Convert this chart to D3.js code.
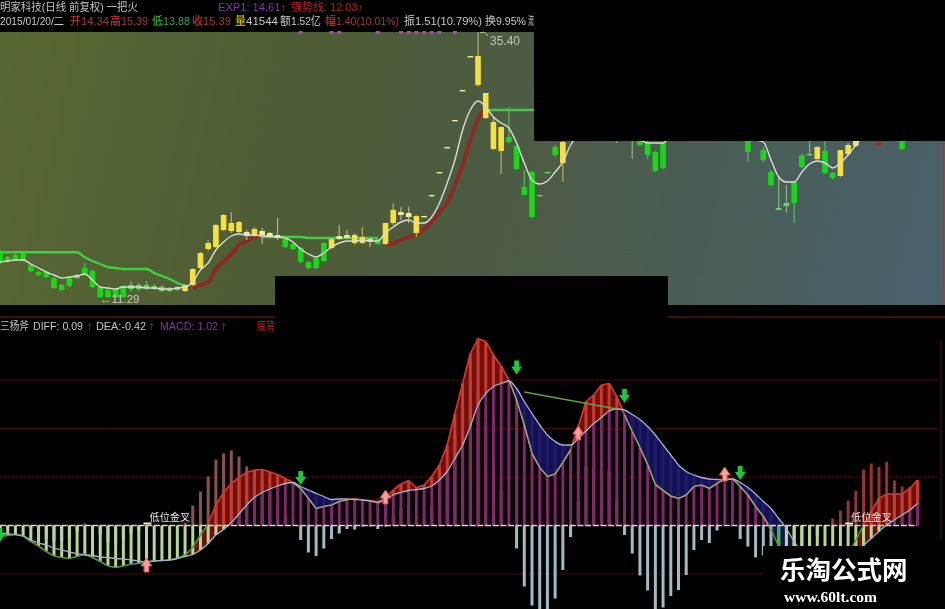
<!DOCTYPE html>
<html><head><meta charset="utf-8">
<script src="https://cdn.jsdelivr.net/npm/d3@7"></script>
<style>html,body{margin:0;padding:0;background:#000;overflow:hidden}svg{display:block;filter:blur(.55px)}text{font-family:"Liberation Sans","Noto Sans CJK SC",sans-serif}</style>
</head><body><svg id="c" width="945" height="609"></svg>
<script>
const _=null;
// candles (chart units)
const opens=[53,48,50,52,40,33,33,27,20,27,
30,37,34,18,15,16,19,20,20,20,
19,18,17,18,14,20,37,56,58,75,
74,73,69,69,70,68,67,66,61,57,
43,47,62,57,66,67,62,62,63,66,
61,82,90,88,72,88,109,132,157,184,
214,248,220,187,156,154,168,159,118,133,
110,133,158,142,_,_,_,_,_,_,
170,_,175,175,162,153,162,_,170,_,
_,_,_,_,_,_,_,175,_,155,
133,97,102,123,150,151,146,154,132,129,
151,159,_,_,164,_,_,175,_,_];
const closes=[43,43,45,45,34,30,28,17,15,19,
27,30,18,8,8,8,8,16,16,17,
16,14,14,15,20,36,52,62,80,90,
82,83,73,76,74,72,70,58,56,43,
37,37,44,66,69,70,70,68,66,61,
82,95,93,92,89,89,110,133,158,185,
215,249,249,212,183,178,163,136,110,88,
109,132,150,163,_,_,_,_,_,_,
169,_,174,160,150,134,137,_,165,_,
_,_,_,_,_,_,_,153,_,145,
120,95,99,102,138,150,158,132,127,155,
160,170,_,_,160,_,_,156,_,_];
const highs=[55,49,51,54,41,34,34,28,21,28,
31,42,35,19,16,17,20,24,22,24,
21,20,18,19,21,37,53,65,81,91,
93,84,75,78,77,73,87,67,62,58,
44,48,63,67,80,75,72,78,67,67,
82,102,98,98,90,89,110,133,158,185,
215,249,273,212,187,178,198,160,135,134,
110,133,160,200,_,_,_,_,_,_,
175,_,176,176,165,154,163,_,172,_,
_,_,_,_,_,_,_,176,_,158,
135,129,120,124,151,175,159,176,133,155,
162,172,_,_,165,_,_,176,_,_];
const lows=[41,42,44,44,33,29,27,16,14,18,
26,29,17,7,7,7,7,14,14,15,
15,13,13,14,13,19,36,54,57,74,
72,72,65,68,61,67,65,57,55,42,
36,36,43,56,65,66,60,61,58,60,
60,80,85,82,68,88,109,132,157,184,
214,248,218,186,155,131,162,135,110,87,
109,132,148,123,_,_,_,_,_,_,
162,_,146,159,146,133,136,_,164,_,
_,_,_,_,_,_,_,143,_,143,
119,95,92,82,137,149,145,131,126,128,
150,158,_,_,159,_,_,155,_,_];
const redCandles=[114];
const maWhite=[43,44,45,45,41,37,33,30,27,28,
29,31,25,18,17,16,18,18,18,17,
17,16,16,17,18,23,35,42,55,63,
69,71,70,70,69,69,68,67,63,56,
51,48,52,58,62,64,64,65,64,64,
72,78,83,85,82,82,88,102,122,145,
175,195,204,198,188,182,177,162,142,125,
121,124,133,143,160,170,180,185,185,182,
178,172,168,165,162,162,162,170,180,185,
190,190,185,180,175,172,170,168,165,163,
145,128,123,123,133,141,144,142,137,142,
150,160,170,175,180,_,_,_,_,_];
const maRed=[_,_,_,_,_,_,_,_,_,_,
_,_,_,_,_,_,_,_,_,_,
_,_,_,_,_,17,20,23,36,44,
51,60,64,68,69,_,_,_,_,_,
_,_,_,_,_,_,_,_,_,_,
60,62,65,68,70,76,83,93,102,120,
140,165,186,197,_,_,_,_,_,_];
const maGreen=[52.7,52.7,52.7,52.7,52.7,52.7,52.7,52.7,52.7,52.7,
52.7,47.7,44,41,38,37,36,36,36,36,
32,29,26,22,19,_,_,_,_,_,
_,_,_,68,68,68,68,68,68,68,
67,67,67,67,67,67,67,67,67,67,
_,_,_,_,_,_,_,_,_,_,
_,_,_,195,195,195,195,195,195,195,
195,195,195,195,195];
const signalMarks=[39,43,44,49,52,53,54,55,56,57,59];
// MACD (chart units)
const hist=[-7,-3,0,0,-3,-6,-13,-16,-15,-13,
-6,2,-4,-9,-17,-18,-14,-8,-5,1,
0,0,0,0,3,20,34,49,66,72,
75,69,59,55,46,34,23,10,0,-14.5,
-27,-30.5,-23,-13.5,-8,-3.5,-4,-1,-1,-3.5,
-1,10,17,20,4,7,19,30,53,90,
123,146,133,104,63,35,2,-23,-61,-80,
-85,-84,-73,-44.5,-11.5,24,59,57,65,55,
25,-9.5,-28,-50,-65,-90,-82,-70.5,-64.5,-49.5,
-24.5,-14.5,-17.5,-5,1,1,-13.5,-21,-32,-30,
-42,-56,-56,-44,-30,-20,-10,0,7,15,
25,34.7,56,62,58.7,63.7,45,39,38.7,45];
const diff=[-11,-10,-9,-10.5,-16,-20.5,-26,-30.5,-32,-33,
-31,-28.5,-32,-36,-40.5,-42,-40.5,-38.5,-38,-36,
-35.5,-35,-34.5,-33,-29.5,-22,-9.5,1.5,20.5,33,
42,48,53,55.5,56,53.5,51,47,43,37,
27,17,19,20.5,24,25.5,27,25.5,25,24,
27,35.5,41.5,45,38,40.5,49,60.5,80.5,112,
142,172,187,184,170.5,159.5,145.5,125.5,100.5,72,
58,49,51.5,63,75.5,99,124,130.5,140.5,142,
129,110.5,94,78,61,41,35,29.5,27,30.5,
39,40.5,37,42,46.5,47,39,30.5,19,9,
-4,-21,-31,-38,-41,-43,-43,-41,-39.5,-36,
-29.5,-14.5,0.5,14,27,31.5,31.5,31.5,37,45.5];
const dea=[-7.5,-8.5,-9,-10.5,-14.5,-17.5,-19.5,-22.5,-24.5,-26.5,
-28,-29.5,-30,-31.5,-32,-33,-33.5,-34.5,-35.5,-36.5,
-35.5,-35,-34.5,-33,-31,-29,-24.5,-18,-9.5,-4,
3,11.5,20.5,28,33,36.5,39.5,42,43,39,
35.5,32,29,26,26.5,26.5,26,25.5,24.5,23,
26,30.5,33,35,36,37,39.5,45.5,54,67,
80.5,99,120.5,132,139,142,144.5,137,124,112,
100.5,90.5,84,80.5,80.5,87,94.5,102,108,114.5,
116.5,115.5,111,106,99,90.5,80.5,70.5,60.5,54,
50.5,48,46.5,46,45.5,46.5,43,38,31.5,24,
17,7,-3,-16,-26,-33,-38,-41,-43,-43.5,
-43,-36,-20.5,-13,-6,.5,5.5,10.5,15.5,22];
const gridValues=[145.5,97,48.5,-48.5];
const divIdx=[68,80], divVal=[133.5,116.5];
const downArrows=[[0,-9.5],[39,47.5],[67,158],[81,129.5],[96,52.5]];
const upArrows=[[19,-39.5],[50,28.5],[75,92.5],[94,51.5]];
const crossLabels=[[19,"低位金叉"],[110,"低位金叉"]];
const headLine2=[["开",70,11,"#e03030"],["14.34",81,28,"#a03838"],["高",110,11,"#e03030"],["15.39",121,27,"#a03838"],["低",152,11,"#30c030"],["13.88",163,27,"#3f9f5f"],["收",192,11,"#e03030"],["15.39",203,28,"#a03838"],["量",235,11,"#d8c820"],["41544",246,32,"#c8c8c8"],["额",280,11,"#c8c8c8"],["1.52亿",291,30,"#c8c8c8"],["幅",325,11,"#e03030"],["1.40(10.01%)",336,63,"#a03838"],["振",404,11,"#c8c8c8"],["1.51(10.79%)",415,67,"#c8c8c8"],["换",485,11,"#c8c8c8"],["9.95%",496,30,"#c8c8c8"],["流",528,6,"#c8c8c8"]];

const svg=d3.select("#c");
const defs=svg.append("defs");
const g=defs.append("linearGradient").attr("id","bg").attr("gradientUnits","userSpaceOnUse")
 .attr("x1",0).attr("y1",60).attr("x2",945).attr("y2",280);
[[0,"#576732"],[.35,"#4d5b36"],[.65,"#4b5c4c"],[1,"#48606c"]].forEach(s=>g.append("stop").attr("offset",s[0]).attr("stop-color",s[1]));

const x=d3.scaleLinear().domain([0,119]).range([0,917.5]);
const yP=d3.scaleLinear().domain([0,273]).range([305,32]);
const yM=d3.scaleLinear().domain([-83.5,185.5]).range([609,340]);
const idx=d3.range(120);

svg.append("rect").attr("width",945).attr("height",609).attr("fill","#000");
svg.append("rect").attr("x",0).attr("y",32).attr("width",945).attr("height",273).attr("fill","url(#bg)");
svg.append("line").attr("x1",943).attr("x2",943).attr("y1",32).attr("y2",305).attr("stroke","#7a4a40").attr("stroke-width",2);

// signal ticks
svg.append("g").selectAll("rect").data(signalMarks).join("rect")
 .attr("x",i=>x(i)-2).attr("y",31).attr("width",4).attr("height",3).attr("fill","#a050a8");

// top lines under candles
const lineP=d3.line().defined(d=>d!=null).x((d,i)=>x(i)).y(d=>yP(d)).curve(d3.curveMonotoneX);
svg.append("path").attr("d",lineP(maGreen)).attr("fill","none").attr("stroke","#3fd03f").attr("stroke-width",2.4);
svg.append("path").attr("d",lineP(maRed)).attr("fill","none").attr("stroke","#8e2a22").attr("stroke-width",4);

// candles
const cd=idx.filter(i=>opens[i]!=null).map(i=>({i,o:opens[i],c:closes[i],h:highs[i],l:lows[i]}));
const tone=d=>{const up=d.c>=d.o,small=Math.abs(d.c-d.o)<=4;
 if(redCandles.includes(d.i))return["#a03028","#a03028"];
 if(up)return small?["#f0eca8","#b8b878"]:["#f6e040","#b8b060"];
 return small&&d.i>=10?["#62d862","#88b878"]:["#18d818","#5fb85f"];};
svg.append("g").selectAll("line").data(cd).join("line")
 .attr("x1",d=>x(d.i)).attr("x2",d=>x(d.i)).attr("y1",d=>yP(d.h)).attr("y2",d=>yP(d.l))
 .attr("stroke",d=>tone(d)[1]).attr("stroke-width",1.2);
svg.append("g").selectAll("rect").data(cd).join("rect")
 .attr("x",d=>x(d.i)-2.8).attr("width",5.6)
 .attr("y",d=>yP(Math.max(d.o,d.c))).attr("height",d=>Math.max(1.4,Math.abs(yP(d.o)-yP(d.c))))
 .attr("fill",d=>tone(d)[0]);
svg.append("path").attr("d",lineP(maWhite)).attr("fill","none").attr("stroke","#dcdcd4").attr("stroke-width",1.4);

// price labels
svg.append("path").attr("d",d3.line()([[480,33],[484,32],[488,36]])).attr("fill","none").attr("stroke","#c8c8b8");
svg.append("text").attr("x",490).attr("y",45).attr("fill","#c0c4b4").attr("font-size",12).text("35.40");
svg.append("text").attr("x",100).attr("y",303).attr("fill","#c8ccb8").attr("font-size",11.5).text("←11.29");

// header
const T=(s,px,py,c,fs,len)=>{const t=svg.append("text").attr("x",px).attr("y",py).attr("fill",c).attr("font-size",fs||11.5).text(s);
 if(len)t.attr("textLength",len).attr("lengthAdjust","spacingAndGlyphs");return t;};
T("明家科技(日线 前复权) 一把火",0,10.5,"#c0c0c0",11,138);
T("EXP1: 14.61↑",218,10.5,"#8a30b0",11,68);
T("强势线: 12.03↑",291,10.5,"#b02020",11,72);
T("2015/01/20/二",0,24.5,"#c8c8c8",10.5,64);
headLine2.forEach(d=>T(d[0],d[1],24.5,d[3],11.5,d[2]));

// MACD panel
svg.append("line").attr("x1",0).attr("x2",945).attr("y1",317).attr("y2",317).attr("stroke","#5a1212").attr("stroke-width",1.5);
svg.append("line").attr("x1",941).attr("x2",941).attr("y1",340).attr("y2",540).attr("stroke","#3a0e0e").attr("stroke-width",1.5);
T("三杨斧",0,330,"#c0c0c0",11,29);
T("DIFF: 0.09",33,330,"#c4c4c4",10.5,50);
T("↑",87,330,"#d03030",11.5);
T("DEA:-0.42",96,330,"#c4c4c4",10.5,50);
T("↑",149,330,"#d03030",11.5);
T("MACD: 1.02",160,330,"#8a30a8",10.5,58);
T("↑",221,330,"#d03030",11.5);
T("底背",257,330,"#d02020",11,18);

svg.append("g").selectAll("line").data(gridValues).join("line")
 .attr("x1",0).attr("x2",938).attr("y1",d=>yM(d)).attr("y2",d=>yM(d))
 .attr("stroke","#4a1010").attr("stroke-width",1).attr("stroke-dasharray","3,1");

const rows=idx.map(i=>({i,h:hist[i],f:diff[i],e:dea[i]}));
const redArea=d3.area().x(d=>x(d.i)).y0(d=>yM(d.e)).y1(d=>yM(Math.max(d.f,d.e)));
svg.append("path").attr("d",redArea(rows)).attr("fill","#6e1010");
const navyArea=d3.area().x(d=>x(d.i)).y0(d=>yM(d.e)).y1(d=>yM(Math.min(d.f,d.e)));
svg.append("path").attr("d",navyArea(rows.slice(28))).attr("fill","#14124e");

const bw=3;
const vbar=(sel,data,c,a,b)=>sel.append("g").selectAll("rect").data(data).join("rect")
 .attr("x",d=>x(d.i)-bw/2).attr("width",bw)
 .attr("y",d=>Math.min(yM(a(d)),yM(b(d)))).attr("height",d=>Math.abs(yM(a(d))-yM(b(d))))
 .attr("fill",c);
vbar(svg,rows.filter(d=>d.h>0),d=>d.i>100?"#9c3030":"#8e5050",d=>0,d=>d.h);
vbar(svg,rows.filter(d=>d.h<0),"#9fbcc4",d=>0,d=>d.h);
// purple core, red caps, green negative bars
vbar(svg,rows.filter(d=>Math.min(d.f,d.e)>0),"#86246e",d=>0,d=>Math.min(d.f,d.e));
vbar(svg,rows.filter(d=>d.f>d.e&&d.f>0),"#cc3a2a",d=>Math.max(d.e,0),d=>d.f);
vbar(svg,rows.filter(d=>d.f<d.e&&d.e>0),"#1e1c70",d=>Math.max(d.f,0),d=>d.e);
vbar(svg,rows.filter(d=>Math.min(d.f,d.e)<0),d=>d.i>=100&&d.i<102?"#46b046":"#b6d890",d=>0,d=>Math.min(d.f,d.e));

// DIFF / DEA
const segs=idx.slice(0,-1).map(i=>({i,a:rows[i],b:rows[i+1]}));
const diffCol=s=>{const m=(s.a.f+s.b.f)/2,n=(s.a.e+s.b.e)/2;
 return m<-1?"#4a9a3c":(m>=n?"#c8402e":"#a2a078");};
svg.append("g").selectAll("line").data(segs).join("line")
 .attr("x1",s=>x(s.a.i)).attr("x2",s=>x(s.b.i)).attr("y1",s=>yM(s.a.f)).attr("y2",s=>yM(s.b.f))
 .attr("stroke",diffCol).attr("stroke-width",1.6);
const lineM=d3.line().x(d=>x(d.i)).y(d=>yM(d.e)).curve(d3.curveMonotoneX);
svg.append("path").attr("d",lineM(rows)).attr("fill","none").attr("stroke","#a8aecc").attr("stroke-width",1.3);
svg.append("path").attr("d",d3.line().x((d,k)=>x(d)).y((d,k)=>yM(divVal[k]))(divIdx)).attr("fill","none").attr("stroke","#5f9f4f").attr("stroke-width",1.6);

// zero line
svg.append("line").attr("x1",0).attr("x2",917).attr("y1",yM(0)).attr("y2",yM(0)).attr("stroke","#e4d0c4").attr("stroke-width",1.6).attr("stroke-dasharray","6,1.7");

// arrows
const arrow=(px,py,down)=>{const s=down?1:-1;return `M${px-2.4},${py-7*s}L${px+2.4},${py-7*s}L${px+2.4},${py-1*s}L${px+5.4},${py-1*s}L${px},${py+7*s}L${px-5.4},${py-1*s}L${px-2.4},${py-1*s}Z`;};
svg.append("g").selectAll("path").data(downArrows).join("path").attr("d",d=>arrow(x(d[0]),yM(d[1]),true)).attr("fill","#1ec83c");
svg.append("g").selectAll("path").data(upArrows).join("path").attr("d",d=>arrow(x(d[0]),yM(d[1]),false)).attr("fill","#f4a0a0").attr("stroke","#e05050").attr("stroke-width",1);

// cross labels
crossLabels.forEach(d=>{const px=x(d[0]);
 svg.append("rect").attr("x",px-3).attr("y",522.5).attr("width",8).attr("height",2).attr("fill","#f4f0b0");
 svg.append("text").attr("x",px+3).attr("y",521).attr("fill","#e4e4e4").attr("font-size",10.2).text(d[1]);});

// masks and watermark
[[534,0,411,141],[275,276,393,55],[763,546,182,63]].forEach(r=>svg.append("rect").attr("x",r[0]).attr("y",r[1]).attr("width",r[2]).attr("height",r[3]).attr("fill","#000"));
svg.append("text").attr("x",780).attr("y",579).attr("fill","#fff").attr("font-size",25.5).attr("font-weight",700).style("font-family","'Noto Sans CJK SC',sans-serif").text("乐淘公式网");
svg.append("text").attr("x",784).attr("y",602).attr("fill","#fff").attr("font-size",15.5).attr("font-weight",700).style("font-family","'Liberation Serif',serif").text("www.60lt.com");
</script></body></html>
